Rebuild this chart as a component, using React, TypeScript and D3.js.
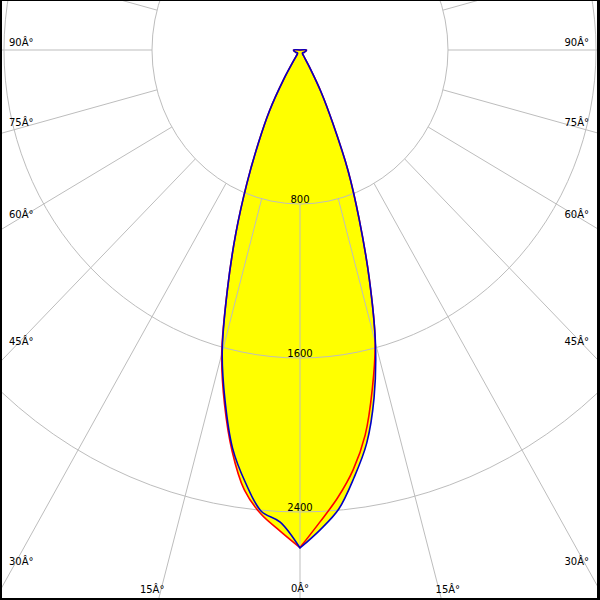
import React from 'react';
import * as d3 from 'd3';

// Polar intensity data (cd) at gamma angles (degrees)
const gammas = [0, 2.5, 5, 7.5, 10, 12.5, 15, 17.5, 20, 22.5, 25, 27.5, 30, 32.5, 35, 45, 60, 75, 90, 100, 180];
const redLeft = [2585, 2500, 2420, 2305, 2115, 1885, 1635, 1305, 1015, 750, 530, 360, 175, 45, 25, 20, 25, 30, 35, 0, 0];
const redRight = [2585, 2455, 2335, 2200, 2030, 1805, 1570, 1245, 935, 680, 420, 250, 100, 40, 25, 20, 25, 30, 35, 0, 0];
const blueLeft = [2587, 2455, 2405, 2265, 2100, 1870, 1625, 1305, 1015, 750, 530, 360, 175, 45, 25, 20, 25, 30, 35, 0, 0];
const blueRight = [2587, 2495, 2395, 2240, 2075, 1850, 1575, 1245, 935, 680, 420, 250, 100, 40, 25, 20, 25, 30, 35, 0, 0];

const ringValues = [800, 1600, 2400];
const gridAngles = [0, 15, 30, 45, 60, 75, 90, 105, 120, 135, 150, 165, 180];
const sideLabelAngles = [90, 75, 60, 45, 30];
const bottomLabelAngles = [15];

const W = 600;
const H = 600;
const cx = 300;
const cy = 50;

const rx = d3.scaleLinear().domain([0, 800]).range([0, 148]);
const ry = d3.scaleLinear().domain([0, 800]).range([0, 154]);

const rad = (a: number) => (a * Math.PI) / 180;
const pt = (g: number, I: number, side: number): [number, number] => [
  cx + side * rx(I) * Math.sin(rad(g)),
  cy + ry(I) * Math.cos(rad(g)),
];

const line = d3.line<[number, number]>().curve(d3.curveCatmullRom.alpha(0.5));

function curvePath(left: number[], right: number[]) {
  const lp: [number, number][] = gammas.map((g, i) => pt(g, left[i], -1));
  const rp: [number, number][] = gammas.map((g, i) => pt(g, right[i], 1)).reverse();
  const a = line(lp) as string;
  const b = (line(rp) as string).replace(/^M/, 'L');
  return a + b + 'Z';
}

const fmtDeg = (a: number) => `${a}Â°`;

export default function App() {
  const redD = curvePath(redLeft, redRight);
  const blueD = curvePath(blueLeft, blueRight);
  const grid = '#bdbdbd';
  const font = 'DejaVu Sans, Verdana, sans-serif';

  const rayYAtX = (a: number, xEdge: number) => {
    const dxCd = rx.invert(Math.abs(xEdge - cx));
    if (a >= 90) return cy;
    const dyCd = dxCd / Math.tan(rad(a));
    return cy + ry(dyCd);
  };
  const rayXAtY = (a: number, y: number, side: number) => {
    const dyCd = ry.invert(y - cy);
    const dxCd = dyCd * Math.tan(rad(a));
    return cx + side * rx(dxCd);
  };

  return (
    <div style={{ position: 'fixed', left: 0, top: 0 }}>
      <svg width={W} height={H} style={{ display: 'block', background: '#fff' }}>
        <rect x={0} y={0} width={W} height={H} fill="#fff" />
        <path d={redD} fill="#ffff00" stroke="none" />
        <path d={blueD} fill="#ffff00" stroke="none" />
        {ringValues.map((v) => (
          <ellipse key={v} cx={cx} cy={cy} rx={rx(v)} ry={ry(v)} fill="none" stroke={grid} strokeWidth={1} />
        ))}
        {gridAngles.flatMap((a) =>
          (a === 0 || a === 180 ? [1] : [-1, 1]).map((s) => {
            const [x1, y1] = pt(a, ringValues[0], s);
            const [x2, y2] = pt(a, 6000, s);
            return <line key={`${a}_${s}`} x1={x1} y1={y1} x2={x2} y2={y2} stroke={grid} strokeWidth={1} />;
          })
        )}
        <path d={redD} fill="none" stroke="#ff0000" strokeWidth={1.6} strokeLinejoin="round" />
        <path d={blueD} fill="none" stroke="#0000c8" strokeWidth={1.6} strokeLinejoin="round" />
        {ringValues.map((v) => (
          <text key={`l${v}`} x={cx} y={cy + ry(v) - 1} textAnchor="middle" fontFamily={font} fontSize={10} fill="#000">
            {v}
          </text>
        ))}
        {sideLabelAngles.map((a) => {
          const y = rayYAtX(a, 10) - 4 - (90 - a) * 0.06;
          return (
            <g key={`s${a}`}>
              <text x={9} y={y} textAnchor="start" fontFamily={font} fontSize={10} fill="#000">{fmtDeg(a)}</text>
              <text x={589} y={y} textAnchor="end" fontFamily={font} fontSize={10} fill="#000">{fmtDeg(a)}</text>
            </g>
          );
        })}
        {bottomLabelAngles.map((a) => (
          <g key={`b${a}`}>
            <text x={rayXAtY(a, 593, -1) - 8} y={593} textAnchor="middle" fontFamily={font} fontSize={10} fill="#000">{fmtDeg(a)}</text>
            <text x={rayXAtY(a, 593, 1) + 8} y={593} textAnchor="middle" fontFamily={font} fontSize={10} fill="#000">{fmtDeg(a)}</text>
          </g>
        ))}
        <text x={cx} y={592} textAnchor="middle" fontFamily={font} fontSize={10} fill="#000">{fmtDeg(0)}</text>
        <rect x={0} y={0} width={2} height={H} fill="#000" />
        <rect x={0} y={0} width={W} height={1} fill="#000" />
        <rect x={597} y={0} width={3} height={H} fill="#000" />
        <rect x={0} y={598} width={W} height={2} fill="#000" />
      </svg>
    </div>
  );
}
